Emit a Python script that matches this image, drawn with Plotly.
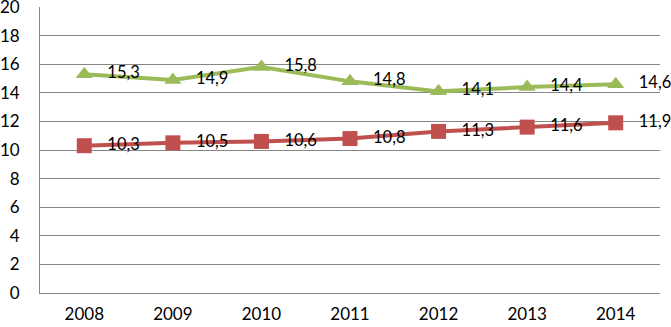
import plotly.graph_objects as go

years = ["2008", "2009", "2010", "2011", "2012", "2013", "2014"]
green_values = [15.3, 14.9, 15.8, 14.8, 14.1, 14.4, 14.6]
red_values = [10.3, 10.5, 10.6, 10.8, 11.3, 11.6, 11.9]
y_ticks = [0, 2, 4, 6, 8, 10, 12, 14, 16, 18, 20]

def fmt(v):
    return "   " + f"{v:.1f}".replace(".", ",")

font_family = "Lato, 'Open Sans', sans-serif"

fig = go.Figure()
fig.add_trace(go.Scatter(
    x=years, y=green_values, mode="lines+markers+text",
    line=dict(color="#9BBB59", width=4),
    marker=dict(symbol="triangle-up", size=15, color="#9BBB59"),
    text=[fmt(v) for v in green_values], textposition="middle right",
    textfont=dict(size=16.5, color="#000000", family=font_family),
    showlegend=False, cliponaxis=False,
))
fig.add_trace(go.Scatter(
    x=years, y=red_values, mode="lines+markers+text",
    line=dict(color="#C0504D", width=4),
    marker=dict(symbol="square", size=15, color="#C0504D"),
    text=[fmt(v) for v in red_values], textposition="middle right",
    textfont=dict(size=16.5, color="#000000", family=font_family),
    showlegend=False, cliponaxis=False,
))

fig.update_layout(
    width=671, height=327,
    margin=dict(l=40, r=11, t=7, b=34, autoexpand=False),
    plot_bgcolor="white", paper_bgcolor="white",
    font=dict(family=font_family, size=17, color="#000000"),
)
fig.update_xaxes(
    type="category", showgrid=False, showline=True, linecolor="#868686", linewidth=1,
    ticks="outside", ticklen=6, tickcolor="rgba(0,0,0,0)",
    tickfont=dict(size=17), range=[-0.5, 6.5], automargin=False,
)
fig.update_yaxes(
    range=[0, 20], tickvals=y_ticks, showgrid=True, gridcolor="#868686", gridwidth=1,
    showline=True, linecolor="#868686", linewidth=1, zeroline=False,
    ticks="outside", ticklen=16, tickcolor="rgba(0,0,0,0)", tickfont=dict(size=17),
    automargin=False, ticklabeloverflow="allow",
)

fig.write_html(
    "out.html",
    config={"displayModeBar": False},
    post_script="document.body.style.margin='0';document.body.style.overflow='hidden';",
)
